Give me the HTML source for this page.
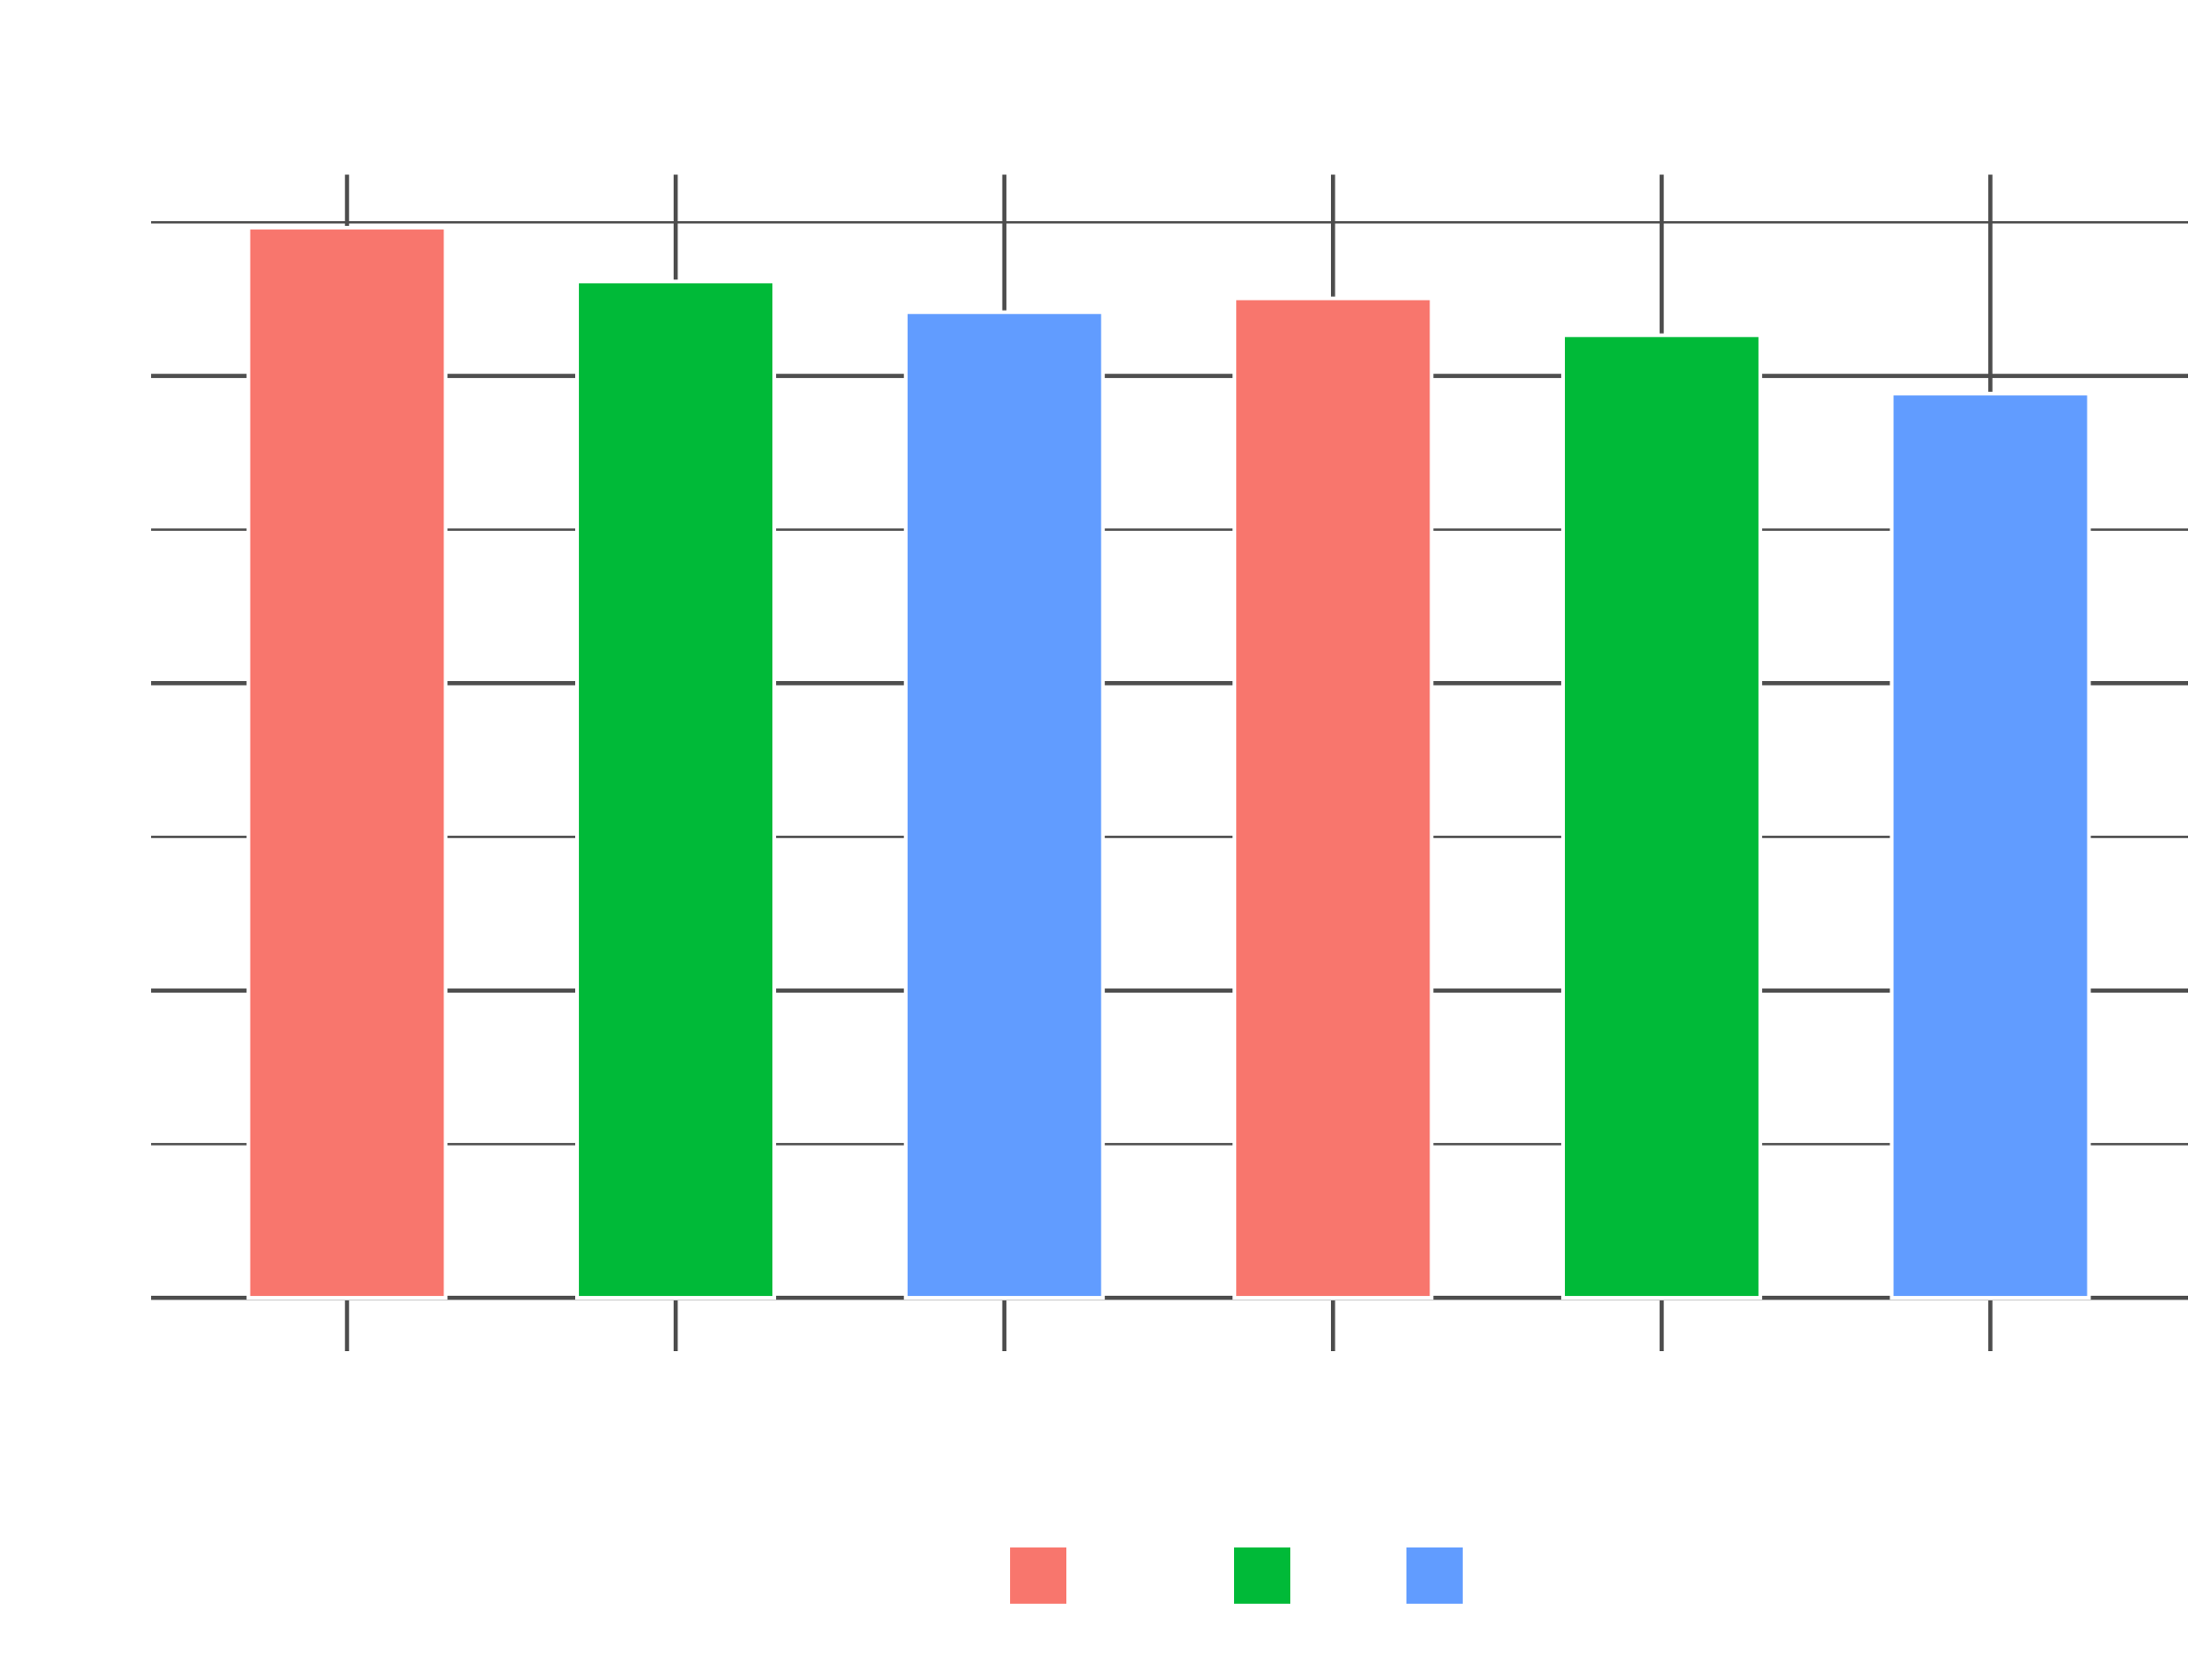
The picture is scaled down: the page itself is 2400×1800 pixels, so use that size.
<!DOCTYPE html>
<html><head><meta charset="utf-8"><style>
html,body{margin:0;padding:0;background:#fff;}
svg{display:block;}
</style></head><body>
<svg id="chart" width="2400" height="1800" viewBox="0 0 2400 1800" xmlns="http://www.w3.org/2000/svg">
<rect x="0" y="0" width="2400" height="1800" fill="#ffffff"/>
<g id="grid"></g>
<g id="errs"></g>
<g id="bars"></g>
<g id="ticks"></g>
<g id="legend"></g>
</svg>
<script>
const categories = ["A", "B", "C", "D", "E", "F"];
const values = [6.965, 6.615, 6.415, 6.505, 6.265, 5.885];
const errUpper = [7.35, 7.35, 7.35, 7.35, 7.35, 7.35];
const gridValues = [0, 1, 2, 3, 4, 5, 6, 7];
const legendLabels = ["Group 1", "Group 2", "Group 3"];
const colors = ["#F8766D", "#00BA38", "#619CFF"];

const NS = "http://www.w3.org/2000/svg";
const plotLeft = 164, plotRight = 2374, plotTop = 189.5, baseY = 1408.1, unit = 166.7;
const step = 356.6, firstCenter = 376.5, barW = 214;
function y(v){ return Math.max(plotTop, baseY - v * unit); }
function x(i){ return firstCenter + i * step; }
function mk(tag, attrs, parent){ const e = document.createElementNS(NS, tag); for (const k in attrs) e.setAttribute(k, attrs[k]); parent.appendChild(e); return e; }

const grid = document.getElementById('grid');
gridValues.forEach(function(g){
  const major = (g % 2 === 0);
  const l = mk('line', {x1: plotLeft, x2: plotRight, y1: y(g), y2: y(g), stroke: '#4d4d4d', 'stroke-width': major ? 4.5 : 2.5}, grid);
  
  
});

const errs = document.getElementById('errs');
values.forEach(function(v, i){
  const l = mk('line', {x1: x(i), x2: x(i), y1: y(v), y2: y(errUpper[i]), stroke: '#4d4d4d', 'stroke-width': 4.5}, errs);
  
  
});

const bars = document.getElementById('bars');
values.forEach(function(v, i){
  const r = mk('rect', {x: x(i) - barW/2, y: y(v), width: barW, height: baseY - y(v), fill: colors[i % 3], stroke: '#ffffff', 'stroke-width': 4}, bars);
  
  
});

const ticks = document.getElementById('ticks');
categories.forEach(function(c, i){
  const t = mk('line', {x1: x(i), x2: x(i), y1: 1411, y2: 1466, stroke: '#4d4d4d', 'stroke-width': 4.5}, ticks);
  
  
  const lbl = mk('text', {x: x(i), y: 1520, 'text-anchor': 'middle', 'font-family': 'Liberation Sans, sans-serif', 'font-size': 40, fill: '#ffffff'}, ticks);
  lbl.textContent = c;
  
  
});

const legend = document.getElementById('legend');
const legendX = [1096, 1339, 1526];
legendLabels.forEach(function(lb, i){
  const k = mk('rect', {x: legendX[i], y: 1679, width: 61, height: 61, fill: colors[i]}, legend);
  
  
  const t = mk('text', {x: legendX[i] + 75, y: 1722, 'font-family': 'Liberation Sans, sans-serif', 'font-size': 36, fill: '#ffffff'}, legend);
  t.textContent = lb;
  
  
});
</script>
</body></html>
